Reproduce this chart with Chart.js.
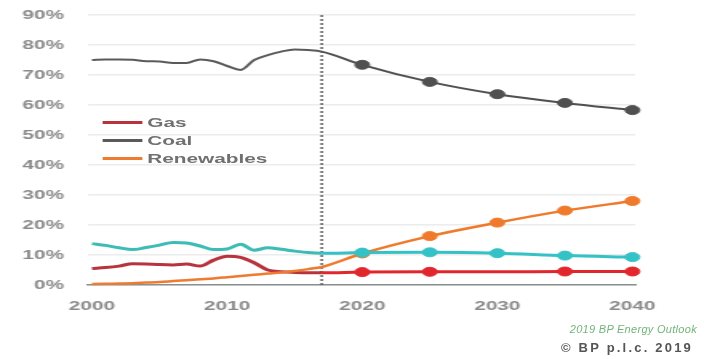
<!DOCTYPE html>
<html>
<head>
<meta charset="utf-8">
<script src="https://cdn.jsdelivr.net/npm/chart.js@4/dist/chart.umd.min.js"></script>
<style>
  html, body { margin: 0; padding: 0; background: #fff; }
  body { width: 706px; height: 359px; position: relative; overflow: hidden; font-family: 'Liberation Sans', Arial, sans-serif; }
  /* the source picture is stretched sideways, so the chart is drawn narrow and widened */
  #stretch { position: absolute; left: 0; top: 0; width: 441px; height: 359px; transform: scaleX(1.6); transform-origin: 0 0; }
  #legend { position: absolute; left: 64px; top: 113px; }
  .legend-row { display: flex; align-items: center; height: 18px; font-weight: bold; font-size: 13px; color: #707070; }
  .legend-line { width: 25px; height: 3px; margin-right: 3px; }
  .footer { position: absolute; right: 9px; white-space: nowrap; }
  #source { top: 323px; font-style: italic; font-size: 11px; color: #74b47a; letter-spacing: 0.3px; }
  #copy { top: 340px; right: 13px; font-weight: bold; font-size: 13px; color: #555; letter-spacing: 2.2px; }
</style>
</head>
<body>
<div id="stretch">
  <canvas id="chart" width="441" height="359"></canvas>
  <div id="legend"></div>
</div>
<div class="footer" id="source">2019 BP Energy Outlook</div>
<div class="footer" id="copy">© BP p.l.c. 2019</div>
<script>
  const histYears = [2000, 2001, 2002, 2003, 2004, 2005, 2006, 2007, 2008, 2009, 2010, 2011, 2012, 2013, 2014, 2015, 2016, 2017];
  const projYears = [2020, 2025, 2030, 2035, 2040];

  const coalHist = [75.0, 75.2, 75.2, 75.1, 74.6, 74.5, 74.0, 74.0, 75.2, 74.6, 73.0, 71.7, 75.0, 76.6, 77.8, 78.5, 78.3, 77.8];
  const coalProj = [73.4, 67.7, 63.6, 60.7, 58.3];
  const hydroHist = [13.8, 13.2, 12.4, 11.8, 12.5, 13.3, 14.2, 14.0, 13.0, 11.8, 12.0, 13.6, 11.6, 12.4, 11.9, 11.3, 10.8, 10.6];
  const hydroProj = [10.8, 10.9, 10.6, 9.8, 9.3];
  const gasHist = [5.5, 5.8, 6.3, 7.1, 7.0, 6.8, 6.7, 7.0, 6.3, 8.3, 9.6, 9.2, 7.4, 5.0, 4.4, 4.2, 4.1, 4.1];
  const gasProj = [4.3, 4.4, 4.4, 4.5, 4.5];
  const renewHist = [0.3, 0.4, 0.5, 0.6, 0.8, 1.0, 1.3, 1.6, 1.9, 2.2, 2.6, 3.0, 3.4, 3.8, 4.2, 4.7, 5.3, 6.0];
  const renewProj = [10.5, 16.3, 20.8, 24.8, 28.0];

  const xTicks = [2000, 2010, 2020, 2030, 2040];
  const yTicks = [0, 10, 20, 30, 40, 50, 60, 70, 80, 90];
  const legendNames = ['Gas', 'Coal', 'Renewables'];

  const lastHist = histYears[histYears.length - 1];

  function points(hist, proj) {
    return histYears.map((x, i) => ({ x, y: hist[i] }))
      .concat(projYears.map((x, i) => ({ x, y: proj[i] })));
  }

  function fuel(label, hist, proj, histColor, projColor, width, skip) {
    return {
      label,
      data: points(hist, proj),
      borderColor: histColor,
      borderWidth: width,
      backgroundColor: projColor,
      pointBackgroundColor: projColor,
      pointBorderColor: projColor,
      pointBorderWidth: 1,
      pointRadius: (ctx) => (ctx.raw && ctx.raw.x >= projYears[0] && !(skip || []).includes(ctx.raw.x)) ? 4.5 : 0,
      cubicInterpolationMode: 'monotone',
      segment: { borderColor: (ctx) => ctx.p0.parsed.x >= lastHist ? projColor : histColor },
      clip: false
    };
  }

  const datasets = [
    fuel('Hydro', hydroHist, hydroProj, '#3dbcb6', '#34c2c6', 3),
    fuel('Renewables', renewHist, renewProj, '#ee7b30', '#ef7a2c', 2.5),
    fuel('Gas', gasHist, gasProj, '#b7343d', '#e1262c', 3, [2030]),
    fuel('Coal', coalHist, coalProj, '#5a5a5a', '#505050', 2),
    {
      label: 'today',
      data: [{ x: lastHist, y: yTicks[0] }, { x: lastHist, y: yTicks[yTicks.length - 1] }],
      borderColor: '#5e5e5e',
      borderWidth: 1.5,
      borderDash: [2, 2],
      pointRadius: 0,
      clip: false
    }
  ];

  const tickFont = { family: "'Liberation Sans', Arial, sans-serif", size: 13, weight: 'bold' };

  new Chart(document.getElementById('chart'), {
    type: 'line',
    data: { datasets },
    options: {
      responsive: false,
      animation: false,
      events: [],
      layout: { padding: { top: 15, right: 44, bottom: 0, left: 0 } },
      plugins: { legend: { display: false }, tooltip: { enabled: false } },
      scales: {
        x: {
          type: 'linear',
          min: 1999.7,
          max: 2040.2,
          afterBuildTicks: (scale) => { scale.ticks = xTicks.map((v) => ({ value: v })); },
          afterFit: (scale) => { scale.height = 74; },
          ticks: { font: tickFont, color: '#8a8a8a', padding: 14, callback: (v) => String(v), maxRotation: 0 },
          grid: { display: false, drawTicks: false },
          border: { display: true, color: '#8a908f', width: 1.5 }
        },
        y: {
          min: 0,
          max: 90,
          afterBuildTicks: (scale) => { scale.ticks = yTicks.map((v) => ({ value: v })); },
          afterFit: (scale) => {
            scale.width = 55;
            // tick padding would otherwise push the plot top down
            scale.paddingTop = 0;
            scale.paddingBottom = 0;
          },
          ticks: { font: tickFont, color: '#8a8a8a', padding: 15, callback: (v) => v + '%' },
          grid: { color: '#ececec', lineWidth: 1.5, drawTicks: false },
          border: { display: false }
        }
      }
    }
  });

  // legend entries take the colour of their own dataset
  document.getElementById('legend').innerHTML = legendNames.map((name) => {
    const ds = datasets.find((d) => d.label === name);
    return `<div class="legend-row"><span class="legend-line" style="background:${ds.borderColor}"></span>${name}</div>`;
  }).join('');
</script>
</body>
</html>
